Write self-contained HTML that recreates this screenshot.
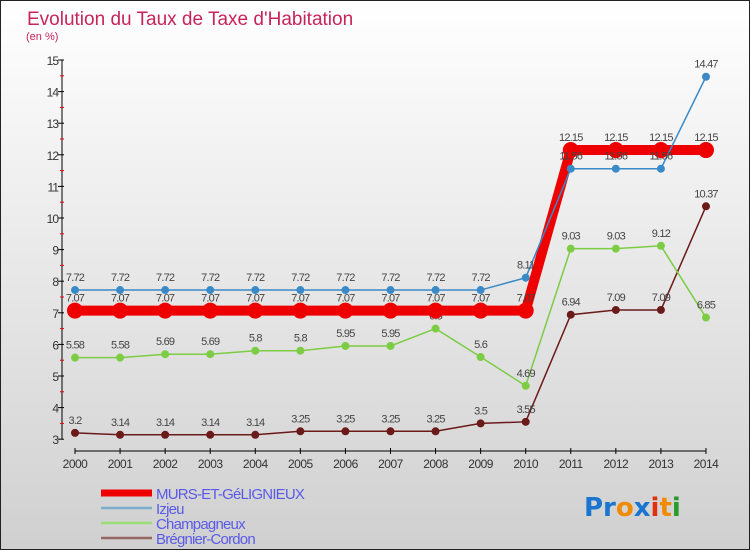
<!DOCTYPE html>
<html><head><meta charset="utf-8"><style>
body{margin:0;}
#wrap{position:relative;width:748px;height:548px;border:1px solid #222;background:linear-gradient(#fff,#d0d0d0);font-family:"Liberation Sans",sans-serif;overflow:hidden}
</style></head><body>
<div id="wrap">
<svg id="chart" width="748" height="548" style="position:absolute;left:0;top:0"></svg>
</div>
<script>
const years=["2000","2001","2002","2003","2004","2005","2006","2007","2008","2009","2010","2011","2012","2013","2014"];
const murs=[7.07,7.07,7.07,7.07,7.07,7.07,7.07,7.07,7.07,7.07,7.07,12.15,12.15,12.15,12.15];
const izjeu=[7.72,7.72,7.72,7.72,7.72,7.72,7.72,7.72,7.72,7.72,8.11,11.56,11.56,11.56,14.47];
const champ=[5.58,5.58,5.69,5.69,5.8,5.8,5.95,5.95,6.5,5.6,4.69,9.03,9.03,9.12,6.85];
const breg=[3.2,3.14,3.14,3.14,3.14,3.25,3.25,3.25,3.25,3.5,3.55,6.94,7.09,7.09,10.37];
const yTicks=[3,4,5,6,7,8,9,10,11,12,13,14,15];
const NS="http://www.w3.org/2000/svg";
const svg=document.getElementById('chart');
const X=i=>74+i*45.07;
const Y=v=>59+(15-v)*31.6;
function mk(t,a,p){const e=document.createElementNS(NS,t);for(const k in a)e.setAttribute(k,a[k]);(p||svg).appendChild(e);return e;}
let t=mk('text',{x:26,y:24,'font-size':19,fill:'#c8245a'});t.textContent="Evolution du Taux de Taxe d'Habitation";


t=mk('text',{x:25,y:39,'font-size':11,fill:'#c8245a'});t.textContent="(en %)";


// axes
let ax=mk('line',{x1:61,y1:Y(15),x2:61,y2:Y(3),stroke:'#000','stroke-width':1});


yTicks.forEach((v,i)=>{
 mk('line',{x1:57,x2:63,y1:Y(v),y2:Y(v),stroke:'#000'});
 if(i<yTicks.length-1)mk('line',{x1:59,x2:63,y1:Y(v+0.5),y2:Y(v+0.5),stroke:'#e00'});
 const l=mk('text',{x:57,y:Y(v)+5,'font-size':12,fill:'#333','text-anchor':'end','letter-spacing':'-1'});l.textContent=v;
 
 
});
ax=mk('line',{x1:X(0),y1:450,x2:X(14),y2:450,stroke:'#000'});


years.forEach((y,i)=>{
 mk('line',{x1:X(i),x2:X(i),y1:447,y2:453,stroke:'#000'});
 const l=mk('text',{x:X(i),y:467,'font-size':12,fill:'#333','text-anchor':'middle','letter-spacing':'-0.5'});l.textContent=y;
 
 
});
function series(data,color,w,r,name){
 const g=mk('g',{});
 
 
 mk('polyline',{points:data.map((v,i)=>X(i)+','+Y(v)).join(' '),fill:'none',stroke:color,'stroke-width':w},g);
 data.forEach((v,i)=>{
  const c=mk('circle',{cx:X(i),cy:Y(v),r:r,fill:color},g);
  
  
  const l=mk('text',{x:X(i),y:Y(v)-9,'font-size':11,fill:'#444','text-anchor':'middle','letter-spacing':'-0.8'},g);
  l.textContent=v;
  
  
 });
}
series(breg,'#6b1a1a',1.5,4,'bregnier-series');
series(champ,'#7ccc44',1.5,4,'champagneux-series');
series(murs,'#ee0000',10,8,'murs-series');
series(izjeu,'#3a8ac8',1.5,4,'izjeu-series');
// legend
const leg=[["MURS-ET-GéLIGNIEUX",'#ee0000',7],["Izjeu",'#7aaecc',2.5],["Champagneux",'#99dd77',2.5],["Brégnier-Cordon",'#996666',2.5]];
leg.forEach((d,i)=>{
 const y=492+i*15;
 const g=mk('g',{});
 
 
 mk('line',{x1:100,x2:151,y1:y,y2:y,stroke:d[1],'stroke-width':d[2]},g);
 const l=mk('text',{x:155,y:y+6,'font-size':15,fill:'#5a5ae8','letter-spacing':'-0.8'},g);l.textContent=d[0];
});
const logo=mk('text',{x:583,y:515,'font-size':26,'font-family':'"DejaVu Sans",sans-serif','font-weight':'bold'});


[["Pr","#1a75d0"],["o","#f08a00"],["x","#1a75d0"],["i","#e03010"],["t","#f08a00"],["i","#2a9a2a"]].forEach(p=>{const s=mk('tspan',{fill:p[1]},logo);s.textContent=p[0];});
</script>
</body></html>
